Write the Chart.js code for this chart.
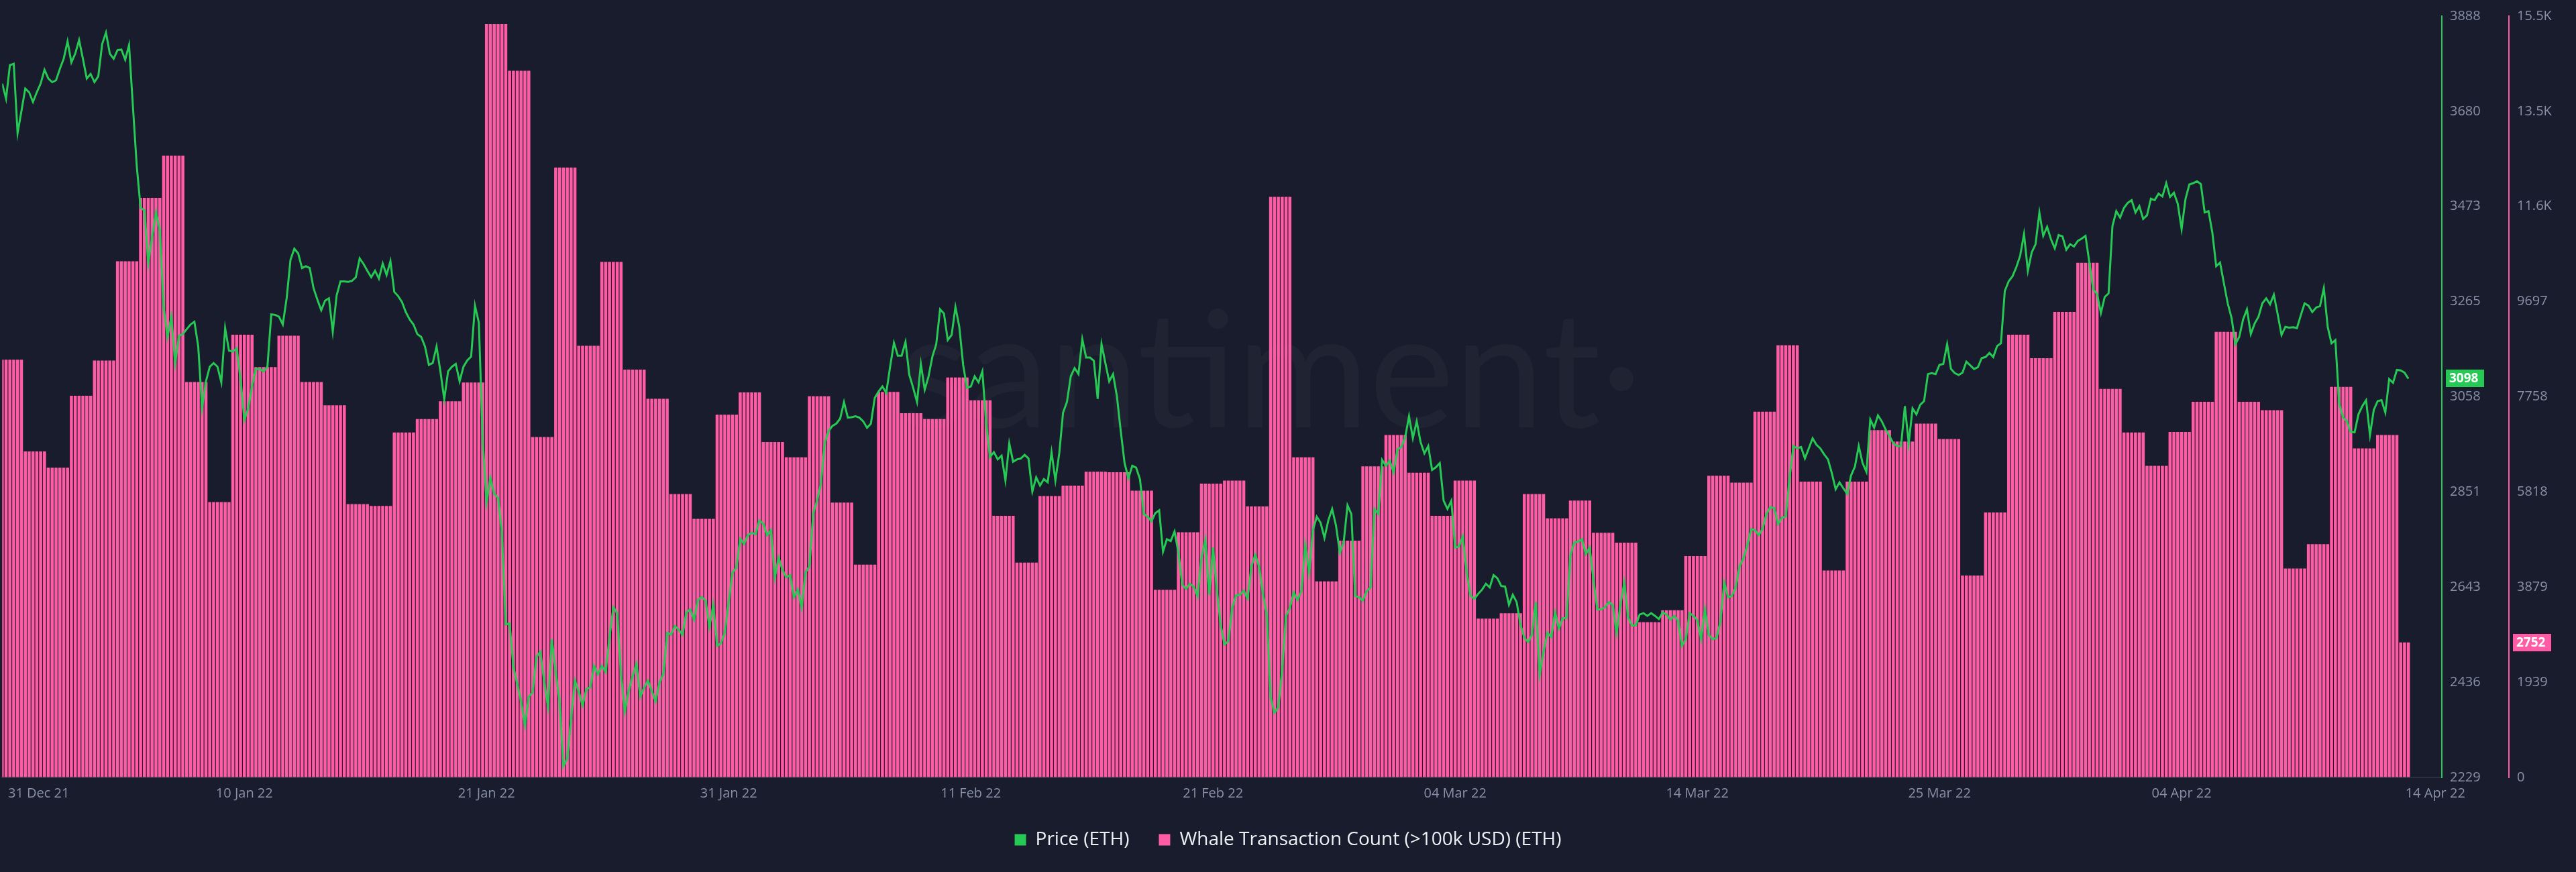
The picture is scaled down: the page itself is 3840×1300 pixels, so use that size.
<!DOCTYPE html>
<html>
<head>
<meta charset="utf-8">
<title>ETH Price vs Whale Transaction Count</title>
<script src="https://cdn.jsdelivr.net/npm/chart.js@4.4.1/dist/chart.umd.min.js"></script>
<style>
  html, body { margin: 0; padding: 0; background: #191c2c; }
  #chart { display: block; }
</style>
</head>
<body>
<canvas id="chart" width="3840" height="1300"></canvas>
<script>
// daily whale transactions (>100k USD), 31 Dec 21 .. 14 Apr 22
const whaleCount = [
  8515, 6644, 6311, 7777, 8495, 10518, 11812, 12672, 8060, 5613,
  9021, 8363, 9001, 8060, 7585, 5572, 5532, 7029, 7302, 7666,
  8050, 15352, 14401, 6938, 12429, 8798, 10507, 8313, 7716, 5775,
  5269, 7393, 7848, 6836, 6523, 7767, 5603, 4338, 7858, 7423,
  7302, 8151, 7686, 5330, 4379, 5734, 5946, 6230, 6219, 5845,
  3823, 4996, 5987, 6048, 5522, 11832, 6523, 3995, 4824, 6341,
  6978, 6209, 5330, 6048, 3236, 3347, 5775, 5279, 5643, 4986,
  4783, 3165, 3408, 4510, 6149, 6007, 7453, 8808, 6027, 4217,
  6027, 7079, 6847, 7211, 6897, 4116, 5400, 9021, 8545, 9486,
  10487, 7918, 7029, 6351, 7039, 7656, 9081, 7656, 7484, 4258,
  4753, 7959, 6705, 6978, 2752
];

// ETH price, 4h steps starting 31 Dec 21 00:00
const price = [
  3741, 3708, 3781, 3784, 3633, 3681, 3730, 3722, 3701, 3722,
  3741, 3771, 3752, 3744, 3748, 3773, 3795, 3833, 3787, 3806,
  3836, 3795, 3752, 3762, 3744, 3757, 3827, 3852, 3806, 3795,
  3814, 3815, 3793, 3825, 3692, 3562, 3470, 3465, 3351, 3406,
  3460, 3422, 3254, 3189, 3233, 3132, 3191, 3195, 3206, 3216,
  3222, 3168, 3035, 3092, 3124, 3132, 3124, 3090, 3208, 3159,
  3157, 3164, 3097, 3008, 3033, 3081, 3119, 3119, 3114, 3124,
  3238, 3237, 3233, 3216, 3273, 3357, 3381, 3371, 3339, 3343,
  3339, 3295, 3270, 3247, 3268, 3273, 3200, 3279, 3310, 3310,
  3309, 3311, 3319, 3360, 3348, 3333, 3319, 3333, 3316, 3349,
  3324, 3354, 3287, 3278, 3265,
  3243, 3227, 3216, 3195, 3189, 3168, 3128, 3132, 3168, 3114,
  3053, 3114, 3124, 3130, 3092, 3124, 3138, 3146, 3257, 3220,
  2968, 2829, 2881, 2847, 2838, 2762, 2562, 2565, 2470, 2432,
  2395, 2343, 2405, 2414, 2492, 2503, 2438, 2384, 2530, 2459,
  2395, 2254, 2270, 2357, 2440, 2416, 2386, 2422, 2425, 2472,
  2454, 2472, 2459, 2535, 2600, 2587, 2454, 2373, 2418, 2449,
  2476, 2405, 2425, 2440, 2418, 2395, 2436, 2454, 2544, 2540,
  2559, 2551, 2540, 2589, 2595, 2573, 2616, 2622, 2614, 2557,
  2605, 2516, 2521, 2544, 2611, 2676, 2686, 2749, 2738, 2757,
  2762, 2759, 2789, 2782, 2757, 2768, 2665, 2708, 2681, 2665,
  2670, 2622, 2638, 2600, 2676,
  2689, 2805, 2832, 2868, 2957, 2984, 2995, 3000, 3011, 3047,
  3013, 3014, 3016, 3013, 3005, 2991, 3000, 3056, 3070, 3081,
  3067, 3124, 3176, 3148, 3148, 3178, 3106, 3078, 3047, 3130,
  3074, 3103, 3146, 3173, 3249, 3240, 3182, 3193, 3254, 3211,
  3128, 3078, 3081, 3103, 3090, 3114, 3000, 2927, 2938, 2922,
  2930, 2876, 2957, 2917, 2922, 2924, 2932, 2924, 2852, 2883,
  2865, 2879, 2872, 2938, 2876, 2935, 3024, 3047, 3103, 3121,
  3108, 3184, 3144, 3144, 3137, 3054, 3173, 3132, 3092, 3108,
  3060, 2984, 2914, 2881, 2908, 2904, 2879, 2803, 2797, 2787,
  2805, 2811, 2721, 2748, 2744, 2765, 2719, 2649, 2640, 2651,
  2645, 2624, 2708, 2746,
  2627, 2730, 2638, 2562, 2519, 2526, 2598, 2626, 2627, 2636,
  2619, 2689, 2714, 2689, 2630, 2584, 2403, 2370, 2382, 2465,
  2581, 2598, 2632, 2616, 2635, 2735, 2676, 2768, 2797, 2784,
  2751, 2789, 2814, 2778, 2719, 2741, 2822, 2803, 2624, 2622,
  2614, 2635, 2643, 2814, 2803, 2921, 2908, 2919, 2894, 2944,
  2949, 2970, 3016, 2968, 3005, 2960, 2935, 2951, 2899, 2905,
  2914, 2832, 2814, 2832, 2730, 2732, 2754, 2676, 2625, 2618,
  2629, 2638, 2651, 2643, 2670, 2663, 2646, 2645, 2605, 2627,
  2611, 2562, 2533, 2524, 2540, 2611, 2454, 2503, 2544, 2535,
  2589, 2553, 2576, 2576, 2714, 2741, 2743, 2748, 2716, 2730,
  2659, 2595, 2595, 2600, 2611,
  2605, 2544, 2605, 2654, 2578, 2560, 2560, 2584, 2587, 2581,
  2587, 2581, 2574, 2589, 2584, 2573, 2581, 2570, 2516, 2530,
  2587, 2581, 2572, 2530, 2595, 2540, 2530, 2533, 2568, 2654,
  2622, 2624, 2643, 2689, 2706, 2735, 2770, 2768, 2757, 2771,
  2803, 2818, 2816, 2781, 2795, 2797, 2881, 2951, 2946, 2949,
  2924, 2946, 2968, 2954, 2946, 2933, 2922, 2892, 2857, 2872,
  2859, 2847, 2887, 2906, 2951, 2914, 2895, 3009, 2991, 3018,
  3005, 2987, 2973, 2957, 2951, 2951, 3038, 2957, 3033, 3020,
  3041, 3049, 3108, 3110, 3108, 3128, 3130, 3173, 3119, 3110,
  3106, 3111, 3135, 3127, 3119, 3123, 3143, 3145, 3154, 3145,
  3169, 3175, 3289, 3310, 3321,
  3341, 3366, 3413, 3333, 3373, 3391, 3460, 3409, 3429, 3402,
  3382, 3411, 3408, 3379, 3391, 3386, 3398, 3403, 3409, 3351,
  3292, 3283, 3241, 3276, 3284, 3430, 3463, 3449, 3470, 3481,
  3487, 3460, 3474, 3446, 3454, 3490, 3487, 3501, 3495, 3524,
  3494, 3503, 3479, 3424, 3489, 3521, 3524, 3528, 3522, 3460,
  3463, 3416, 3343, 3351, 3306, 3262, 3230, 3173, 3189, 3227,
  3249, 3195, 3218, 3233, 3262, 3273, 3260, 3281, 3238, 3193,
  3211, 3209, 3210, 3208, 3236, 3262, 3257, 3243, 3253, 3256,
  3295, 3211, 3175, 3182, 3043, 3014, 3005, 2982, 2981, 3020,
  3038, 3051, 2975, 3030, 3049, 3051, 3024, 3097, 3089, 3117,
  3116, 3111, 3098
];

// x axis: one unit = one 4h slot
const xTickLabels = ['31 Dec 21', '10 Jan 22', '21 Jan 22', '31 Jan 22', '11 Feb 22', '21 Feb 22',
  '04 Mar 22', '14 Mar 22', '25 Mar 22', '04 Apr 22', '14 Apr 22'];
const xTickSlots = [9.5, 63, 126, 189, 252, 315, 378, 441, 504, 567, 633];

const priceTickLabels = ['2229', '2436', '2643', '2851', '3058', '3265', '3473', '3680', '3888'];
const whaleTickLabels = ['0', '1939', '3879', '5818', '7758', '9697', '11.6K', '13.5K', '15.5K'];
const priceMin = 2229, priceMax = 3888;
const whaleMin = 0, whaleMax = 15516;

const slotsPerDay = 6;
const bg = '#191c2c';
const green = '#26c953';
const pink = '#ff5ca5';
const grey = '#8891a7';
const tickFont = { family: 'Open Sans', size: 20 };

const priceData = price.map((p, i) => ({ x: i, y: p }));
const whaleData = [];
whaleCount.forEach((v, d) => {
  for (let j = 0; j < slotsPerDay; j++) {
    const slot = d * slotsPerDay + j;
    if (slot < price.length) whaleData.push({ x: slot, y: v });
  }
});

const evenTicks = (labels, min, max) => (scale) => {
  scale.ticks = labels.map((_, k) => ({ value: min + (max - min) * k / (labels.length - 1) }));
};

const background = {
  id: 'background',
  beforeDraw(chart) {
    const ctx = chart.ctx;
    ctx.save();
    ctx.fillStyle = bg;
    ctx.fillRect(0, 0, chart.width, chart.height);
    ctx.restore();
  }
};

const watermark = {
  id: 'watermark',
  beforeDatasetsDraw(chart) {
    const { ctx, chartArea } = chart;
    ctx.save();
    ctx.fillStyle = 'rgba(255,255,255,0.03)';
    ctx.font = '240px Lato';
    ctx.textAlign = 'center';
    ctx.textBaseline = 'alphabetic';
    ctx.fillText('santiment·', chartArea.left + chartArea.width * 0.52, chartArea.top + chartArea.height * 0.54);
    ctx.restore();
  }
};

// last value tags on both axes
const lastValue = {
  id: 'lastValue',
  afterDraw(chart) {
    const ctx = chart.ctx;
    const tag = (scale, value, color) => {
      const y = Math.round(scale.getPixelForValue(value));
      ctx.fillStyle = color;
      ctx.fillRect(scale.left + 6, y - 13, 57, 26);
      ctx.fillStyle = '#ffffff';
      ctx.font = 'bold 19px "Open Sans"';
      ctx.textAlign = 'left';
      ctx.textBaseline = 'middle';
      ctx.fillText(String(value), scale.left + 11, y + 1);
    };
    ctx.save();
    tag(chart.scales.yPrice, price[price.length - 1], green);
    tag(chart.scales.yWhale, whaleCount[whaleCount.length - 1], pink);
    ctx.restore();
  }
};

new Chart(document.getElementById('chart'), {
  data: {
    datasets: [{
      type: 'line',
      label: 'Price (ETH)',
      data: priceData,
      yAxisID: 'yPrice',
      borderColor: green,
      backgroundColor: green,
      borderWidth: 3,
      pointRadius: 0,
      tension: 0,
      order: 0
    }, {
      type: 'bar',
      label: 'Whale Transaction Count (>100k USD) (ETH)',
      data: whaleData,
      yAxisID: 'yWhale',
      backgroundColor: pink,
      borderWidth: 0,
      barPercentage: 0.8,
      categoryPercentage: 1,
      order: 1
    }]
  },
  options: {
    responsive: false,
    animation: false,
    devicePixelRatio: 1,
    layout: { padding: { top: 14, bottom: 24, left: 0, right: 0 } },
    plugins: {
      tooltip: { enabled: false },
      legend: {
        position: 'bottom',
        labels: {
          color: '#eef0f5',
          font: { family: 'Open Sans', size: 28 },
          boxWidth: 17,
          boxHeight: 17,
          padding: 44,
          generateLabels: (chart) => Chart.defaults.plugins.legend.labels.generateLabels(chart)
            .map(item => Object.assign(item, { lineWidth: 0 }))
        }
      }
    },
    scales: {
      x: {
        type: 'linear',
        min: 0,
        max: 634.7,
        offset: false,
        grid: { display: false, drawTicks: false },
        border: { display: true, color: '#2b2f42', width: 2 },
        afterBuildTicks: (scale) => { scale.ticks = xTickSlots.map(v => ({ value: v })); },
        afterFit: (scale) => { scale.height = 35; },
        ticks: {
          autoSkip: false,
          maxRotation: 0,
          padding: 12,
          color: grey,
          font: tickFont,
          callback: (v, i) => xTickLabels[i]
        }
      },
      yPrice: {
        type: 'linear',
        position: 'right',
        min: priceMin,
        max: priceMax,
        grid: { drawOnChartArea: false, drawTicks: false, color: 'transparent' },
        border: { display: true, color: green, width: 2 },
        afterBuildTicks: evenTicks(priceTickLabels, priceMin, priceMax),
        afterFit: (scale) => { scale.width = 100; },
        ticks: { padding: 12, color: grey, font: tickFont, callback: (v, i) => priceTickLabels[i] }
      },
      yWhale: {
        type: 'linear',
        position: 'right',
        min: whaleMin,
        max: whaleMax,
        grid: { drawOnChartArea: false, drawTicks: false, color: 'transparent' },
        border: { display: true, color: pink, width: 2 },
        afterBuildTicks: evenTicks(whaleTickLabels, whaleMin, whaleMax),
        afterFit: (scale) => { scale.width = 100; },
        ticks: { padding: 12, color: grey, font: tickFont, callback: (v, i) => whaleTickLabels[i] }
      }
    }
  },
  plugins: [background, watermark, lastValue]
});
</script>
</body>
</html>
